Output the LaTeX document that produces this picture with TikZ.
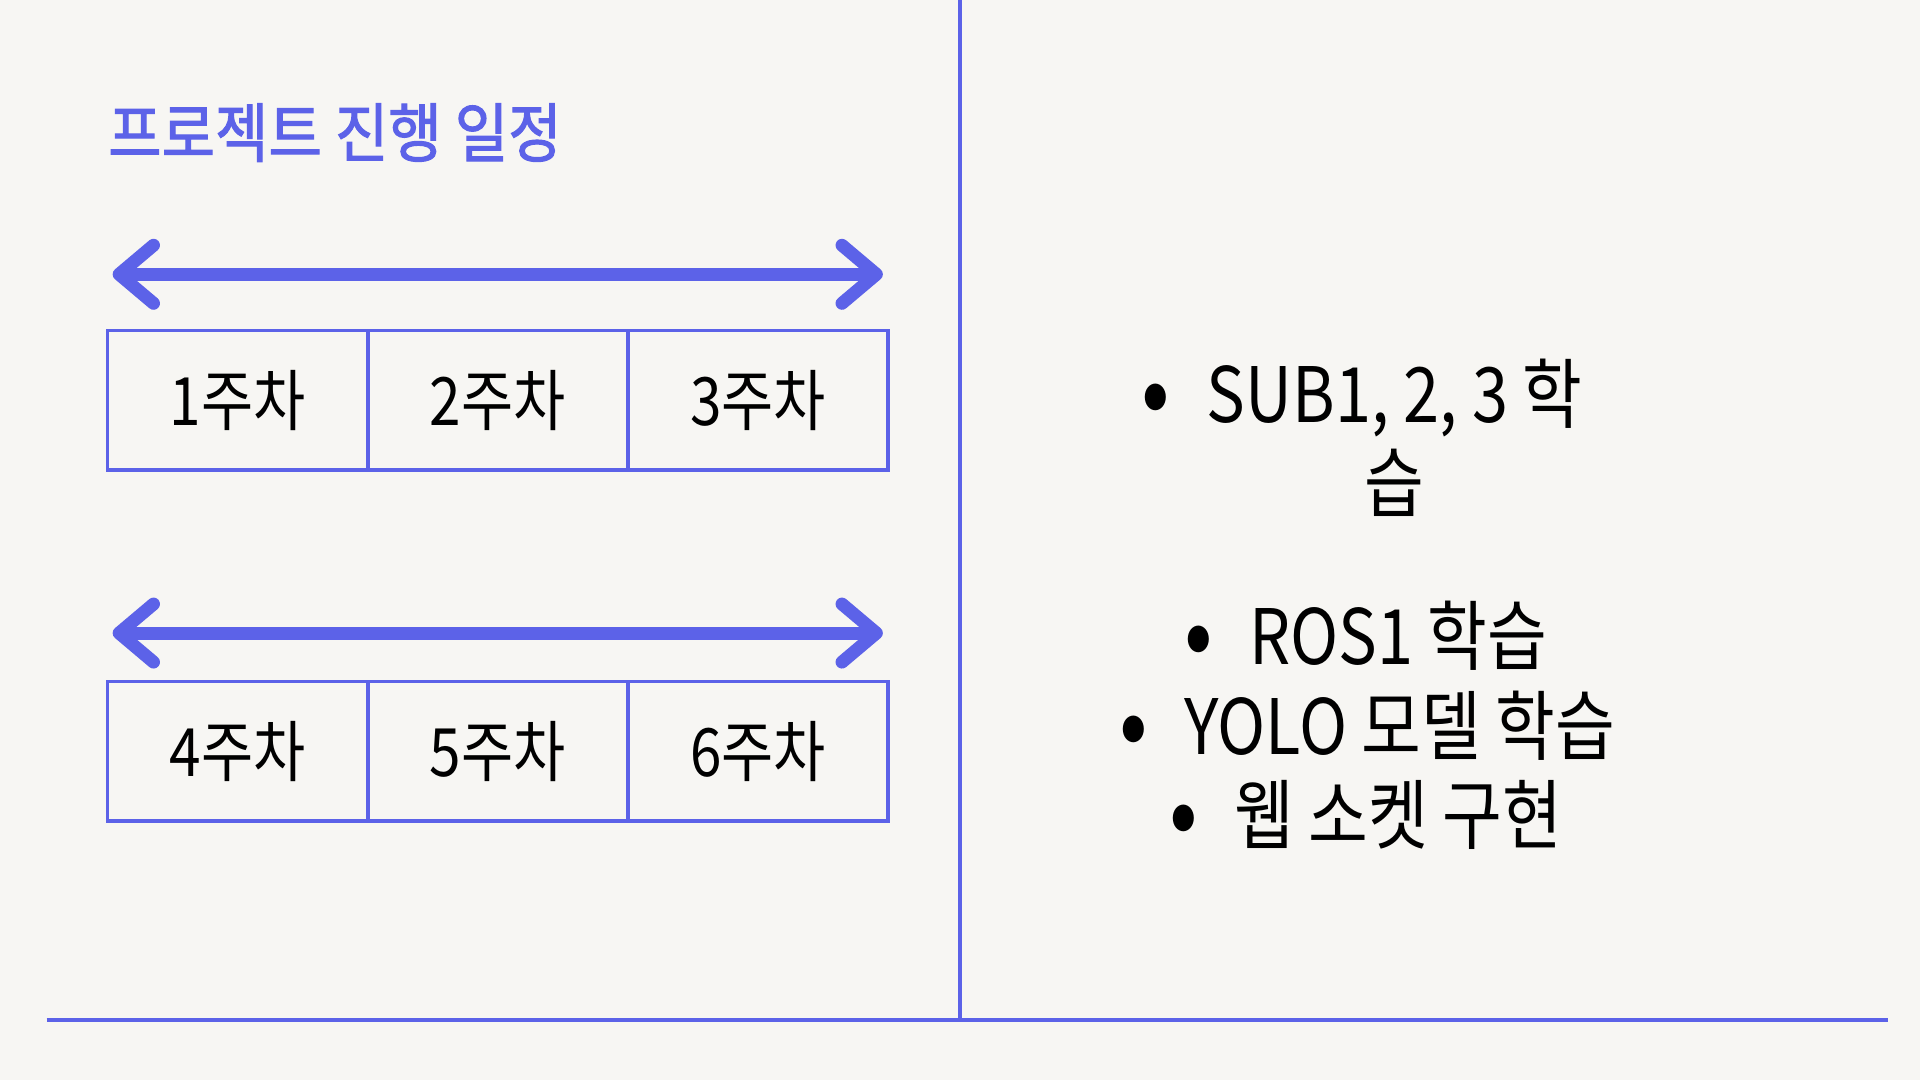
\documentclass[tikz,border=0pt]{standalone}
\usepackage{fontspec}
\usetikzlibrary{arrows.meta,calc}
\newfontfamily\krfont[FakeStretch=0.85]{Noto Sans CJK KR}
\newfontfamily\krtitlefont[FakeStretch=0.9,FakeBold=1.6]{Noto Sans CJK KR}
\definecolor{bgc}{RGB}{247,246,243}
\definecolor{accent}{RGB}{92,98,232}
\tikzset{
  dblarrow/.style={accent, line width=6pt,
    {Straight Barb[round,length=16pt,width=27pt]}-{Straight Barb[round,length=16pt,width=27pt]}},
  cell/.style={draw=accent, line width=1.7pt, minimum width=4.25cm, minimum height=2.28cm,
    inner sep=0pt, text=black, font=\krfont\fontsize{31}{36}\selectfont},
  itemtext/.style={anchor=base, inner sep=0pt, text=black, font=\krfont\fontsize{35.5}{42}\selectfont},
  bullettext/.style={anchor=center, inner sep=0pt, text=black, font=\krfont\fontsize{46}{50}\selectfont},
  rule/.style={accent, line width=2.1pt}
}
\begin{document}
\begin{tikzpicture}[x=0.02cm,y=-0.02cm]
\fill[bgc] (0,0) rectangle (1568,882);
\useasboundingbox (0,0) rectangle (1568,882);
% title
\node[anchor=base west, inner sep=0pt, text=accent, font=\krtitlefont\fontsize{30}{36}\selectfont] (title) at (88,128) {프로젝트 진행 일정};
% arrows
\coordinate (a1l) at (92,224); \coordinate (a1r) at (721,224);
\coordinate (a2l) at (92,517); \coordinate (a2r) at (721,517);
\draw[dblarrow] (a1l) -- (a1r);
\draw[dblarrow] (a2l) -- (a2r);
% week cells
\node[cell] (w1) at (194,327) {1주차};
\node[cell] (w2) at (406.5,327) {2주차};
\node[cell] (w3) at (619,327) {3주차};
\node[cell] (w4) at (194,613.5) {4주차};
\node[cell] (w5) at (406.5,613.5) {5주차};
\node[cell] (w6) at (619,613.5) {6주차};
% dividers
\coordinate (vt) at (784,0); \coordinate (vb) at (784,833);
\coordinate (hl) at (38,833); \coordinate (hr) at (1542,833);
\draw[rule] (vt) -- (vb);
\draw[rule] (hl) -- (hr);
% right list
\node[itemtext] (i1a) at (1139,345) {SUB1, 2, 3 학};
\node[itemtext] (i1b) at (1139,418) {습};
\node[itemtext] (i2) at (1142,543) {ROS1 학습};
\node[itemtext] (i3) at (1143,616) {YOLO 모델 학습};
\node[itemtext] (i4) at (1142,689) {웹 소켓 구현};
\node[bullettext] (b1) at ($(i1a.base west)+(-41,-14)$) {•};
\node[bullettext] (b2) at ($(i2.base west)+(-41,-14)$) {•};
\node[bullettext] (b3) at ($(i3.base west)+(-41,-14)$) {•};
\node[bullettext] (b4) at ($(i4.base west)+(-41,-14)$) {•};
\end{tikzpicture}
\end{document}
